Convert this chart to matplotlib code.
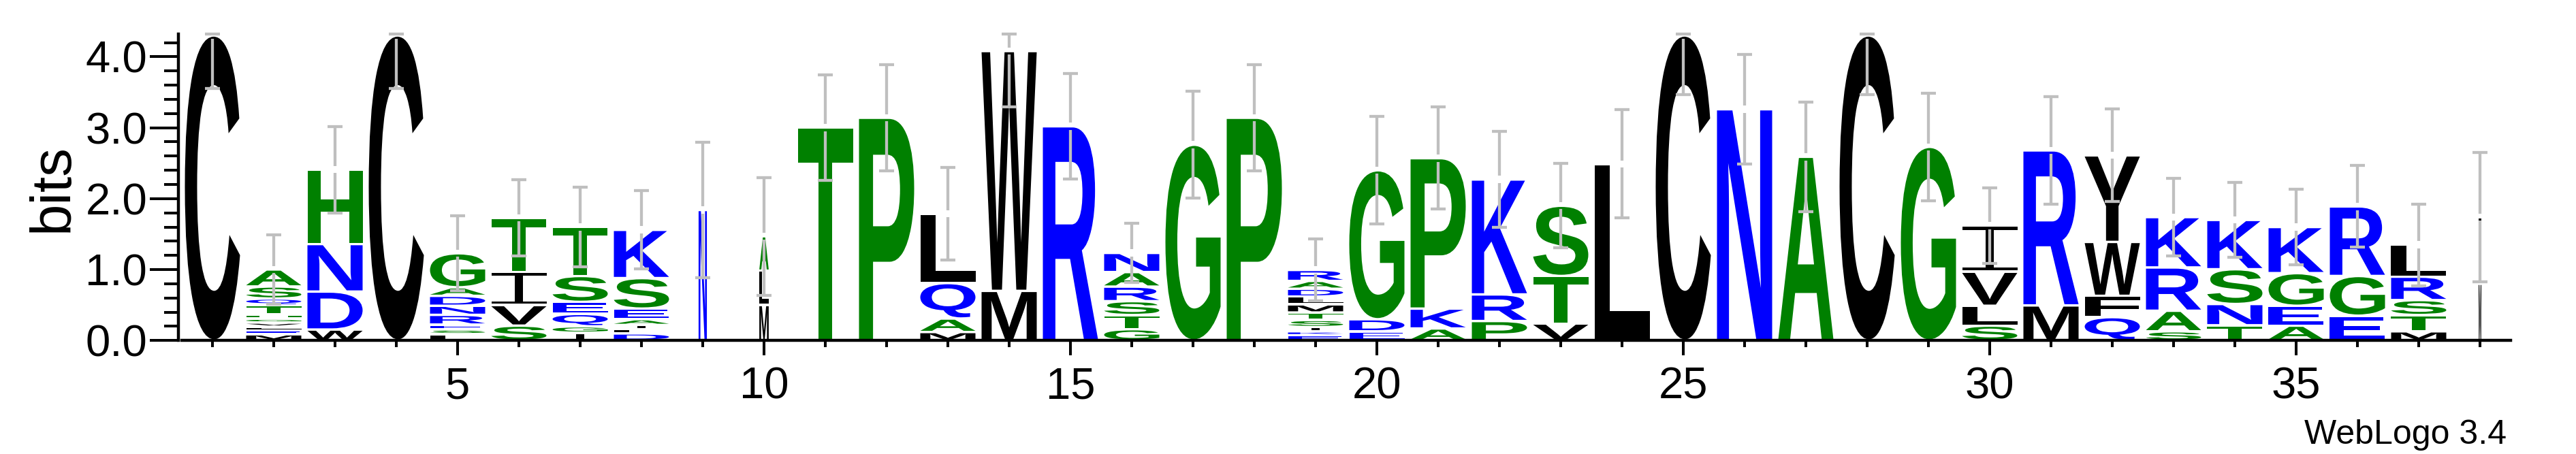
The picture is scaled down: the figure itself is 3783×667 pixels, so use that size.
import matplotlib
matplotlib.use('Agg')
import matplotlib.pyplot as plt
from matplotlib.textpath import TextPath
from matplotlib.patches import PathPatch
from matplotlib.font_manager import FontProperties
from matplotlib.path import Path
from matplotlib.transforms import Affine2D
from matplotlib.ticker import MultipleLocator, FormatStrFormatter

plt.rcParams['font.family'] = 'Liberation Sans'

#
# Data read off the logo (bits), letters listed bottom -> top
#
stack_letters = [
    'C', 'MELVGHTQSA', 'WDNH', 'C', 'LSERNDAG', 'SVIT', 'IGQEST', 'DLIAESK', 'N', 'MLA',
    'T', 'P', 'MAQL', 'MW', 'R', 'GTSRAN', 'G', 'P', 'EKISTMLDAR', 'EDG',
    'AKP', 'PRK', 'VTS', 'L', 'C', 'N', 'A', 'C', 'G', 'SLVI',
    'MR', 'QFWY', 'SARK', 'TNSK', 'AEGK', 'EGR', 'MTSRL', 'MI',
]
stack_bits = [
    [4.30],
    [0.088, 0.053, 0.055, 0.057, 0.056, 0.058, 0.13, 0.095, 0.17, 0.24],
    [0.155, 0.535, 0.67, 1.05],
    [4.30],
    [0.09, 0.067, 0.068, 0.137, 0.128, 0.14, 0.12, 0.48],
    [0.21, 0.29, 0.465, 0.765],
    [0.11, 0.09, 0.175, 0.17, 0.365, 0.69],
    [0.10, 0.06, 0.06, 0.08, 0.15, 0.43, 0.68],
    [1.84],
    [0.50, 0.485, 0.485],
    [3.00],
    [3.14],
    [0.12, 0.19, 0.50, 0.975],
    [0.70, 3.38],
    [3.02],
    [0.16, 0.20, 0.195, 0.205, 0.205, 0.27],
    [2.76],
    [3.14],
    [0.075, 0.055, 0.06, 0.10, 0.105, 0.115, 0.11, 0.11, 0.11, 0.155],
    [0.13, 0.17, 2.10],
    [0.17, 0.28, 2.12],
    [0.275, 0.375, 1.62],
    [0.24, 0.67, 0.99],
    [2.49],
    [4.30],
    [3.26],
    [2.59],
    [4.30],
    [2.73],
    [0.21, 0.28, 0.48, 0.65],
    [0.495, 2.185],
    [0.33, 0.30, 0.76, 1.22],
    [0.13, 0.29, 0.61, 0.71],
    [0.215, 0.30, 0.49, 0.695],
    [0.21, 0.28, 0.46, 0.65],
    [0.35, 0.56, 0.98],
    [0.13, 0.23, 0.21, 0.33, 0.45],
    [0.80, 0.94],
]
# fraction of the full column width (gappy columns are thinner)
stack_width = [
    1, 1, 1, 1, 1, 1, 1, 1, 0.15, 0.17,
    1, 1, 1, 1, 1, 1, 1, 1, 1, 1,
    1, 1, 1, 1, 1, 1, 1, 1, 1, 1,
    1, 1, 1, 1, 1, 1, 1, 0.05,
]
error_bits = [
    0.75, 0.49, 0.61, 0.75, 0.53, 0.535, 0.565, 0.55, 0.95, 0.83,
    0.74, 0.75, 0.65, 0.79, 0.745, 0.42, 0.755, 0.75, 0.44, 0.755,
    0.72, 0.675, 0.595, 0.765, 0.83, 0.77, 0.77, 0.83, 0.76, 0.53,
    0.755, 0.65, 0.55, 0.53, 0.53, 0.575, 0.575, 0.915,
]

max_bits = 4.32

# hydrophobicity colour scheme
colors = {}
for c in 'RKDENQ':
    colors[c] = '#0000ff'
for c in 'SGHTAP':
    colors[c] = '#008000'
for c in 'YVMCLFIW':
    colors[c] = '#000000'

font = FontProperties(family='Liberation Sans', weight='bold')


def rect_path(x, y, w, h):
    return Path.unit_rectangle().transformed(Affine2D().scale(w, h).translate(x, y))


def glyph_path(ch):
    if ch == 'I':
        # weblogo draws I with bars top and bottom
        return Path.make_compound_path(
            rect_path(0, 0, 1, 0.07),
            rect_path(0.43, 0, 0.14, 1),
            rect_path(0, 0.93, 1, 0.07),
        )
    return TextPath((0, 0), ch, size=1, prop=font)


def draw_letter(ax, ch, xc, y0, w, h, color):
    path = glyph_path(ch)
    ext = path.get_extents()
    tr = Affine2D().translate(-ext.x0, -ext.y0)
    tr = tr.scale(w / ext.width, h / ext.height).translate(xc - w / 2, y0)
    ax.add_patch(PathPatch(tr.transform_path(path), facecolor=color,
                           edgecolor='none', lw=0, zorder=2))


fig = plt.figure(figsize=(37.83, 6.67), dpi=100)
ax = fig.add_axes([267 / 3783, 166.7 / 667, 3420 / 3783, 450.3 / 667])
ax.set_xlim(0.5, 38.5)
ax.set_ylim(0, max_bits)

letter_w = 0.9
pad = 0.017
gap = 0.05

for i, letters in enumerate(stack_letters):
    x = i + 1
    w = letter_w * stack_width[i]
    y = 0.0
    for ch, h in zip(letters, stack_bits[i]):
        if h - 2 * pad > 0.003:
            draw_letter(ax, ch, x, y + pad, w, h - 2 * pad, colors[ch])
        y += h
    top = y

    # error bar, split where it crosses the top of the stack
    e = error_bits[i]
    lo = top - e
    hi = min(top + e, max_bits)
    bar = dict(color='#bfbfbf', lw=3.1, solid_capstyle='butt', zorder=3, clip_on=False)
    ax.plot([x, x], [lo, top - gap], **bar)
    if hi > top + gap:
        ax.plot([x, x], [top + gap, hi], **bar)
    ax.plot([x - 0.117, x + 0.117], [lo, lo], **bar)
    ax.plot([x - 0.117, x + 0.117], [hi, hi], **bar)

# axes styling
for s in ['top', 'right']:
    ax.spines[s].set_visible(False)
ax.spines['left'].set_position(('outward', 3.6))
ax.spines['left'].set_linewidth(3.2)
ax.spines['bottom'].set_linewidth(3.2)

ax.yaxis.set_major_locator(MultipleLocator(1))
ax.yaxis.set_minor_locator(MultipleLocator(0.2))
ax.yaxis.set_major_formatter(FormatStrFormatter('%.1f'))
ax.xaxis.set_major_locator(MultipleLocator(5))
ax.xaxis.set_minor_locator(MultipleLocator(1))

ax.tick_params(axis='y', which='major', length=30, width=2.9, labelsize=47, pad=3)
ax.tick_params(axis='y', which='minor', length=15, width=2.9)
ax.tick_params(axis='x', which='major', length=15.6, width=2.9, labelsize=47, pad=12)
ax.tick_params(axis='x', which='minor', length=7.2, width=2.9)

fig.text(78 / 3783, 391 / 667, 'bits', rotation=90, ha='center', va='center', fontsize=60)
fig.text(3681 / 3783, 15 / 667, 'WebLogo 3.4', ha='right', va='baseline', fontsize=36)

fig.savefig('out.png', dpi=100)
